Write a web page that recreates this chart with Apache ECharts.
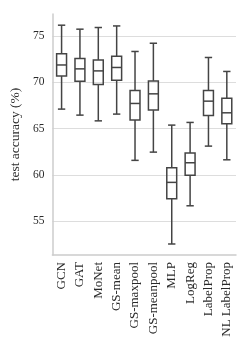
<!DOCTYPE html>
<html>
<head>
<meta charset="utf-8">
<script src="https://cdn.jsdelivr.net/npm/echarts@6/dist/echarts.min.js"></script>
<style>
html,body{margin:0;padding:0;background:#fff;}
#chart{width:250px;height:351px;}
</style>
</head>
<body>
<div id="chart"></div>
<script>
var categories = ['GCN','GAT','MoNet','GS-mean','GS-maxpool','GS-meanpool','MLP','LogReg','LabelProp','NL LabelProp'];
var lowWhisker = [67.12, 66.47, 65.85, 66.58, 61.58, 62.47, 52.54, 56.67, 63.12, 61.64];
var q1Values   = [70.69, 70.14, 69.78, 70.25, 65.93, 67.01, 57.43, 59.96, 66.44, 65.53];
var medians    = [71.89, 71.47, 71.25, 71.62, 67.73, 68.77, 59.20, 61.32, 67.98, 66.72];
var q3Values   = [73.11, 72.59, 72.44, 72.84, 69.14, 70.17, 60.78, 62.37, 69.14, 68.30];
var highWhisker= [76.19, 75.76, 75.94, 76.11, 73.35, 74.24, 65.39, 65.68, 72.70, 71.19];
var yTicks = [55, 60, 65, 70, 75];
var yName = 'test accuracy (%)';

var data = categories.map(function (c, i) {
  return [i, lowWhisker[i], q1Values[i], medians[i], q3Values[i], highWhisker[i]];
});

var FONT = '"Liberation Serif", "DejaVu Serif", serif';
var LINE = '#444444';
var LW = 1.5;

function renderItem(params, api) {
  var i = api.value(0);
  var band = api.size([1, 0])[0];
  var boxHalf = band * 0.27;
  var capHalf = band * 0.2;
  var pLow = api.coord([i, api.value(1)]);
  var pQ1 = api.coord([i, api.value(2)]);
  var pMed = api.coord([i, api.value(3)]);
  var pQ3 = api.coord([i, api.value(4)]);
  var pHigh = api.coord([i, api.value(5)]);
  var x = pMed[0];
  var style = {stroke: LINE, lineWidth: LW, fill: null};
  return {
    type: 'group',
    children: [
      {type: 'line', shape: {x1: x, y1: pLow[1], x2: x, y2: pQ1[1]}, style: style},
      {type: 'line', shape: {x1: x, y1: pQ3[1], x2: x, y2: pHigh[1]}, style: style},
      {type: 'line', shape: {x1: x - capHalf, y1: pLow[1], x2: x + capHalf, y2: pLow[1]}, style: style},
      {type: 'line', shape: {x1: x - capHalf, y1: pHigh[1], x2: x + capHalf, y2: pHigh[1]}, style: style},
      {type: 'rect', shape: {x: x - boxHalf, y: pQ3[1], width: boxHalf * 2, height: pQ1[1] - pQ3[1]}, style: {stroke: LINE, lineWidth: LW, fill: 'rgba(0,0,0,0)'}},
      {type: 'line', shape: {x1: x - boxHalf, y1: pMed[1], x2: x + boxHalf, y2: pMed[1]}, style: style}
    ]
  };
}

var chart = echarts.init(document.getElementById('chart'), null, {renderer: 'canvas'});
chart.setOption({
  animation: false,
  backgroundColor: '#ffffff',
  grid: {left: 52, right: 14, top: 14, bottom: 96, containLabel: false},
  xAxis: {
    type: 'category',
    data: categories,
    boundaryGap: true,
    axisLine: {show: true, lineStyle: {color: '#cccccc', width: 1.5}},
    axisTick: {show: false},
    splitLine: {show: false},
    axisLabel: {rotate: 90, margin: 7, interval: 0, fontFamily: FONT, fontSize: 13, color: '#2a2a2a'}
  },
  yAxis: {
    type: 'value',
    min: 51.35,
    max: 77.4,
    name: yName,
    nameLocation: 'middle',
    nameGap: 25,
    nameTextStyle: {fontFamily: FONT, fontSize: 13.5, color: '#2a2a2a'},
    axisLine: {show: true, lineStyle: {color: '#cccccc', width: 1.5}},
    axisTick: {show: false, customValues: yTicks},
    axisLabel: {customValues: yTicks, margin: 8, fontFamily: FONT, fontSize: 11.5, color: '#2a2a2a'},
    splitLine: {show: true, lineStyle: {color: '#dddddd', width: 1.2}}
  },
  series: [{
    type: 'custom',
    renderItem: renderItem,
    encode: {x: 0, y: [1, 2, 3, 4, 5]},
    data: data,
    z: 3
  }]
});
</script>
</body>
</html>
